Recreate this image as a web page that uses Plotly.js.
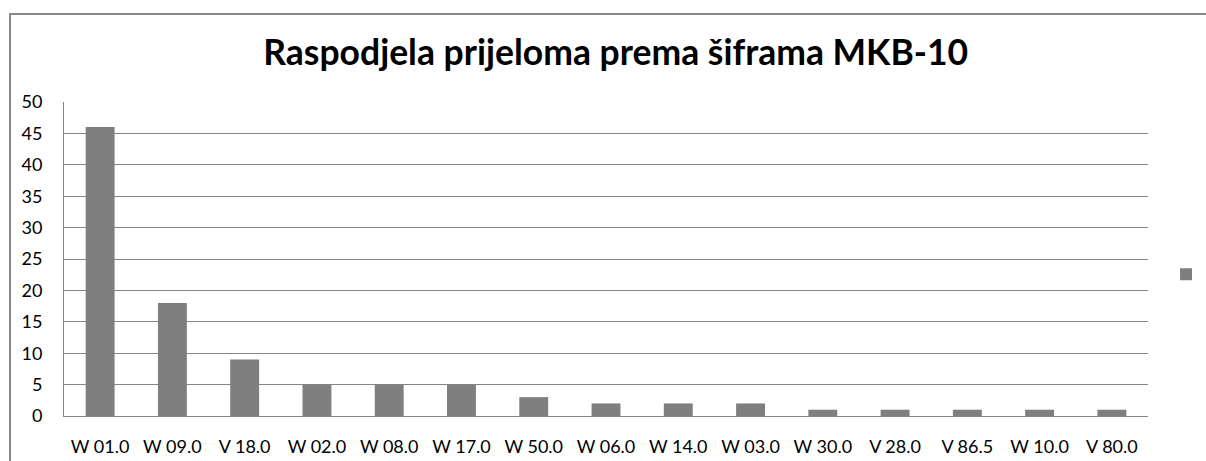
<!DOCTYPE html>
<html>
<head>
<meta charset="utf-8">
<script src="https://cdn.plot.ly/plotly-3.0.1.min.js"></script>
<style>
html,body{margin:0;padding:0;background:#fff;overflow:hidden;}
#wrap{position:relative;width:1206px;height:461px;}
#frame{position:absolute;left:9px;top:13px;width:1200px;height:500px;border:2px solid #8a8a8a;box-sizing:border-box;pointer-events:none;}
#chart{position:absolute;left:0;top:0;width:1206px;height:461px;}
</style>
</head>
<body>
<div id="wrap">
<div id="chart"></div>
<div id="frame"></div>
</div>
<script>
const categories = ["W 01.0","W 09.0","V 18.0","W 02.0","W 08.0","W 17.0","W 50.0","W 06.0","W 14.0","W 03.0","W 30.0","V 28.0","V 86.5","W 10.0","V 80.0"];
const values = [46,18,9,5,5,5,3,2,2,2,1,1,1,1,1];
const yTicks = [0,5,10,15,20,25,30,35,40,45,50];
const titleText = "Raspodjela prijeloma prema šiframa MKB-10";

const font = "Lato, 'Open Sans', sans-serif";
const trace = {
  type: "bar",
  x: categories,
  y: values,
  name: "",
  marker: {color: "#7f7f7f"},
  hoverinfo: "x+y"
};
const layout = {
  width: 1206, height: 461,
  margin: {l: 64, r: 58, t: 102, b: 45, autoexpand: false},
  paper_bgcolor: "rgba(0,0,0,0)",
  plot_bgcolor: "#fff",
  bargap: 0.6,
  showlegend: true,
  legend: {x: 1.0166, xanchor: "left", y: 0.45, yanchor: "middle", font: {size: 14, family: font}, bgcolor: "rgba(0,0,0,0)"},
  title: {text: "<b>" + titleText + "</b>", font: {family: font, size: 35.5, color: "#000"}, x: 0.509, xanchor: "center", y: 0.885, yanchor: "middle", xref: "paper"},
  xaxis: {
    type: "category",
    tickfont: {family: font, size: 18, color: "#000"},
    showline: true, linecolor: "#868686", linewidth: 1,
    ticks: "", showgrid: false, automargin: false, ticklabelstandoff: 14
  },
  yaxis: {
    range: [0, 50],
    tickvals: yTicks,
    ticktext: yTicks.map(String),
    tickfont: {family: font, size: 18, color: "#000"},
    showgrid: true, gridcolor: "#868686", gridwidth: 1,
    showline: true, linecolor: "#868686", linewidth: 1,
    zeroline: false, ticks: "", ticklabelstandoff: 17, automargin: false
  }
};
Plotly.newPlot("chart", [trace], layout, {displayModeBar: false, staticPlot: true});
</script>
</body>
</html>
